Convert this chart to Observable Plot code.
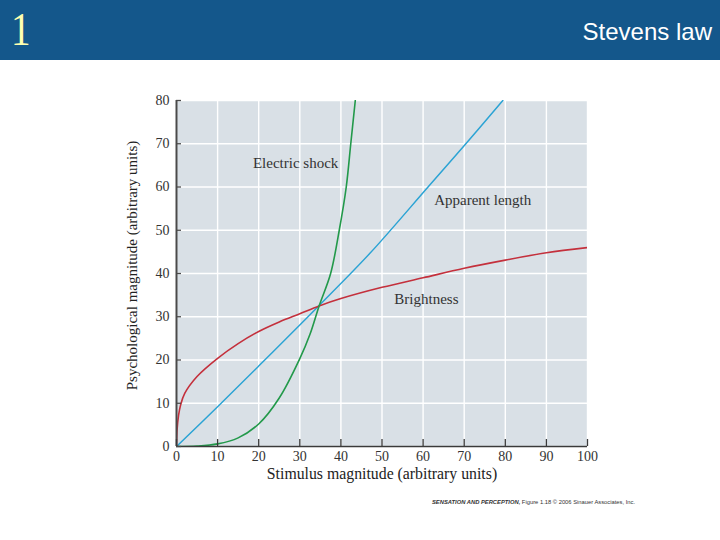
<!DOCTYPE html>
<html>
<head>
<meta charset="utf-8">
<script src="https://cdn.jsdelivr.net/npm/d3@7"></script>
<script src="https://cdn.jsdelivr.net/npm/@observablehq/plot@0.6"></script>
<style>
  html, body { margin: 0; padding: 0; background: #ffffff; }
  #page { position: relative; width: 720px; height: 540px; overflow: hidden; background: #ffffff; }
  #header { position: absolute; left: 0; top: 0; width: 720px; height: 60px; background: #14578b; }
  #num { position: absolute; left: 11px; top: 5px; font-family: "Liberation Serif", serif; font-size: 46px; line-height: 50px; color: #ffffb0; transform: scaleX(0.85); transform-origin: left center; }
  #title { position: absolute; right: 8px; top: 18px; font-family: "Liberation Sans", Arial, sans-serif; font-size: 24px; line-height: 28px; color: #ffffff; }
  #chart { position: absolute; left: 0; top: 60px; }
  #caption { position: absolute; left: 432px; top: 499px; font-family: "Liberation Sans", Arial, sans-serif; font-size: 5.8px; color: #333; white-space: nowrap; }
  #caption b { font-style: italic; }
</style>
</head>
<body>
<div id="page">
  <div id="header"><div id="num">1</div><div id="title">Stevens law</div></div>
  <div id="chart"></div>
  <div id="caption"><b>SENSATION AND PERCEPTION,</b> Figure 1.18 © 2006 Sinauer Associates, Inc.</div>
</div>
<script>
// Tick labels
const xTicks = [0, 10, 20, 30, 40, 50, 60, 70, 80, 90, 100];
const yTicks = [0, 10, 20, 30, 40, 50, 60, 70, 80];

// Brightness (red)
const brightX = [0, 0.15, 0.5, 1, 2, 5, 10, 15, 20, 25, 30, 34.7, 40, 50, 60, 70, 80, 90, 100];
const brightY = [0, 4, 7.2, 9.6, 12.3, 16.2, 20.4, 23.8, 26.6, 28.8, 30.7, 32.5, 34.2, 36.8, 39.0, 41.2, 43.1, 44.8, 46.0];

// Apparent length (blue)
const lengthX = [0, 10, 20, 30, 34.7, 47, 61.2, 70.4, 79.4];
const lengthY = [0, 9.2, 18.6, 28.1, 32.6, 44.6, 60, 70, 80];

// Electric shock (green)
const shockX = [0, 5, 10, 15, 20, 25, 30, 32.5, 34.7, 37.5, 39.6, 41.3, 42.4, 43.5];
const shockY = [0, 0.1, 0.6, 2.0, 5.2, 11.2, 20.3, 26.0, 32.5, 40, 50, 60, 70, 80];

// Curve labels
const labelText = ["Electric shock", "Apparent length", "Brightness"];
const labelX = [18.6, 62.7, 53];
const labelY = [65.6, 57, 34];

const toRows = (xs, ys) => xs.map((x, i) => ({x, y: ys[i]}));
const bright = toRows(brightX, brightY);
const length = toRows(lengthX, lengthY);
const shock = toRows(shockX, shockY);
const labels = labelText.map((t, i) => ({t, x: labelX[i], y: labelY[i]}));

const serif = '"Liberation Serif", "DejaVu Serif", serif';
const W = 720, H = 430, ML = 176, MR = 133, MT = 40, MB = 44;
const FW = W - ML - MR, FH = H - MT - MB;

const plot = Plot.plot({
  width: W,
  height: H,
  marginLeft: ML,
  marginRight: MR,
  marginTop: MT,
  marginBottom: MB,
  style: { fontFamily: serif, fontSize: "14px", color: "#333", background: "transparent" },
  x: { domain: [0, 100] },
  y: { domain: [0, 80] },
  marks: [
    Plot.frame({ fill: "#d9e0e6", stroke: null }),
    Plot.gridX(xTicks, { stroke: "#ffffff", strokeOpacity: 1, strokeWidth: 1.4 }),
    Plot.gridY(yTicks, { stroke: "#ffffff", strokeOpacity: 1, strokeWidth: 1.4 }),
    Plot.line(length, { x: "x", y: "y", stroke: "#2ba3d4", strokeWidth: 1.5, curve: "catmull-rom", clip: true }),
    Plot.line(bright, { x: "x", y: "y", stroke: "#c4303c", strokeWidth: 1.6, curve: "catmull-rom", clip: true }),
    Plot.line(shock, { x: "x", y: "y", stroke: "#22994a", strokeWidth: 1.6, curve: "catmull-rom", clip: true }),
    Plot.ruleX([0], { stroke: "#4a4a4a", strokeWidth: 2 }),
    Plot.ruleY([0], { stroke: "#3a3a3a", strokeWidth: 1.5 }),
    Plot.tickX(xTicks, { x: d => d, stroke: "#3a3a3a", strokeWidth: 1.3, insetTop: FH - 7 }),
    Plot.tickY(yTicks, { y: d => d, stroke: "#4a4a4a", strokeWidth: 1.3, insetRight: FW - 5 }),
    Plot.axisX(xTicks, { anchor: "bottom", tickSize: 0, tickPadding: 5, label: null, fontSize: 14, fill: "#333" }),
    Plot.axisY(yTicks, { anchor: "left", tickSize: 0, tickPadding: 7, label: null, fontSize: 14, fill: "#333" }),
    Plot.text(labels, { x: "x", y: "y", text: "t", textAnchor: "start", fontSize: 15, fill: "#333" }),
    Plot.text(["Stimulus magnitude (arbitrary units)"], { frameAnchor: "bottom", dy: 32, fontSize: 15.8, fill: "#222" }),
    Plot.text(["Psychological magnitude (arbitrary units)"], { frameAnchor: "left", textAnchor: "middle", dx: -44, dy: -8, rotate: -90, fontSize: 15, fill: "#222" })
  ]
});
document.getElementById("chart").appendChild(plot);
</script>
</body>
</html>
